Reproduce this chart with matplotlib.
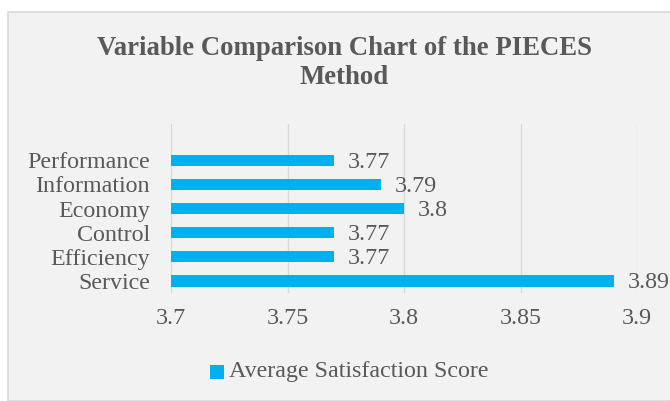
import matplotlib
matplotlib.use("Agg")
import matplotlib.pyplot as plt
from matplotlib.patches import Rectangle

categories = ["Service", "Efficiency", "Control", "Economy", "Information", "Performance"]
scores = [3.89, 3.77, 3.77, 3.80, 3.79, 3.77]
score_labels = ["3.89", "3.77", "3.77", "3.8", "3.79", "3.77"]
xticks = [3.7, 3.75, 3.8, 3.85, 3.9]
xtick_labels = ["3.7", "3.75", "3.8", "3.85", "3.9"]

BLUE = "#00B0F0"
TEXT = "#595959"
GRID = "#D9D9D9"
BG = "#F2F2F2"
FS = 17.3

plt.rcParams["font.family"] = ["Liberation Serif", "DejaVu Serif"]

fig = plt.figure(figsize=(6.7, 4.01), dpi=100)
fig.patch.set_facecolor("white")
fig.add_artist(Rectangle((8 / 670, 0), 1.0, 1 - 12 / 401, transform=fig.transFigure,
                         facecolor=BG, edgecolor=GRID, linewidth=1.2, zorder=0))

ax = fig.add_axes([171 / 670, 1 - 293 / 401, (637 - 171) / 670, (293 - 124) / 401])
ax.set_facecolor("none")

y = list(range(len(categories)))
ax.barh(y, [s - 3.7 for s in scores], left=3.7, height=0.47, color=BLUE, zorder=3)
for yi, s, lab in zip(y, scores, score_labels):
    ax.text(s + 0.006, yi - 0.08, lab, ha="left", va="center", fontsize=FS, color=TEXT)

ax.set_xlim(3.7, 3.9)
ax.set_ylim(-0.5, 6.5)
ax.set_xticks(xticks)
ax.set_xticklabels(xtick_labels)
ax.set_yticks(y)
ax.set_yticklabels(categories)
ax.tick_params(axis="x", length=0, pad=11, labelsize=FS, labelcolor=TEXT)
ax.tick_params(axis="y", length=0, pad=15, labelsize=FS, labelcolor=TEXT)
ax.grid(axis="x", color=GRID, linewidth=1, zorder=0)
for sp in ax.spines.values():
    sp.set_visible(False)

fig.text(344.5 / 670, 1 - 63 / 401, "Variable Comparison Chart of the PIECES\nMethod",
         ha="center", va="center", fontsize=19.3, fontweight="bold", color=TEXT,
         linespacing=1.17)

fig.add_artist(Rectangle((210 / 670, 1 - 379 / 401), 14 / 670, 14 / 401,
                         transform=fig.transFigure, facecolor=BLUE, edgecolor="none"))
fig.text(229 / 670, 1 - 372 / 401, "Average Satisfaction Score", ha="left", va="center",
         fontsize=FS, color=TEXT)

fig.savefig("out.png", dpi=100, facecolor=fig.get_facecolor())
